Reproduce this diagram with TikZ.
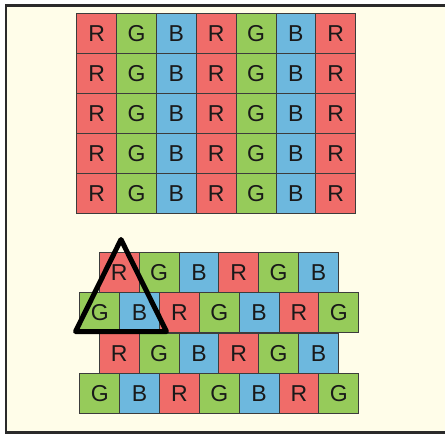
\documentclass[tikz,border=0pt]{standalone}
\usepackage{fontspec}
\setmainfont{Liberation Sans}
\definecolor{bg}{HTML}{FFFDE9}
\definecolor{cR}{HTML}{F06C69}
\definecolor{cG}{HTML}{96CB5A}
\definecolor{cB}{HTML}{6DB8DE}
\definecolor{edge}{HTML}{3C3C3C}
\definecolor{frame}{HTML}{2A2A2A}
\tikzset{
  px/.style={draw=edge, line width=0.9pt, minimum width=39.85pt, minimum height=40pt,
    inner sep=0pt, outer sep=0pt, font=\fontsize{23}{23}\selectfont, text=black!90},
  pR/.style={px, fill=cR},
  pG/.style={px, fill=cG},
  pB/.style={px, fill=cB},
}
\newcommand{\mylet}[1]{\raisebox{-1pt}{#1}}
\begin{document}
\begin{tikzpicture}[x=1pt,y=-1pt]
\useasboundingbox (0,0) rectangle (445,434);
\fill[white] (0,0) rectangle (445,434);
\fill[bg] (6,5.7) rectangle (448,432.7);
\draw[frame, line width=2.7pt] (448,5.7) -- (6,5.7) -- (6,432.7) -- (448,432.7);
% top grid: stripes
\foreach \r in {0,...,4}{
  \foreach \c/\L in {0/R,1/G,2/B,3/R,4/G,5/B,6/R}{
    \node[p\L, anchor=north west] (t\r\c) at ({76.7+39.85*\c},{13.3+40*\r}) {\mylet{\L}};
  }
}
% bottom grid: offset rows
\foreach \r/\y in {0/252.3,2/333.3}{
  \foreach \c/\L in {0/R,1/G,2/B,3/R,4/G,5/B}{
    \node[p\L, anchor=north west] (b\r\c) at ({99.3+39.85*\c},\y) {\mylet{\L}};
  }
}
\foreach \r/\y in {1/292.3,3/373.3}{
  \foreach \c/\L in {0/G,1/B,2/R,3/G,4/B,5/R,6/G}{
    \node[p\L, anchor=north west] (b\r\c) at ({79.8+39.85*\c},\y) {\mylet{\L}};
  }
}
% triangle
\coordinate (apex) at (121,239.5);
\coordinate (bl) at (75.5,331.5);
\coordinate (br) at (166.5,331.5);
\draw[black, line width=5pt, line join=round, line cap=round] (apex) -- (bl) -- (br) -- cycle;
\end{tikzpicture}
\end{document}
